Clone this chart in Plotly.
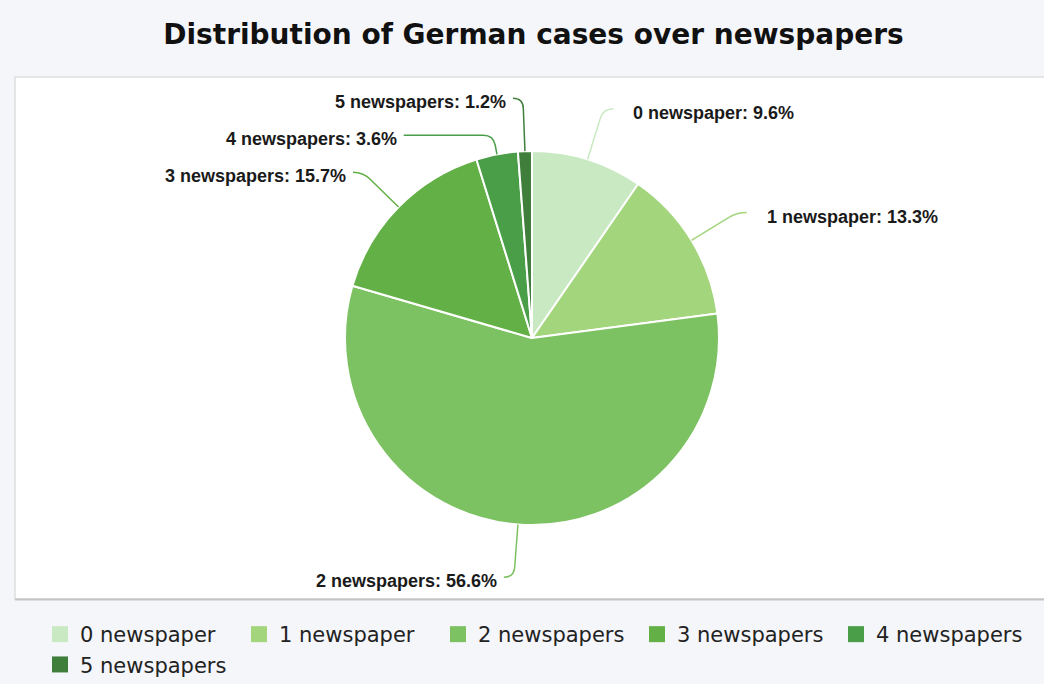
import math
import plotly.graph_objects as go

# --- data -------------------------------------------------------------
categories = ["0 newspaper", "1 newspaper", "2 newspapers",
              "3 newspapers", "4 newspapers", "5 newspapers"]
shares = [9.6, 13.3, 56.6, 15.7, 3.6, 1.2]
colors = ["#c8e9c1", "#a2d57c", "#7cc262", "#62b046", "#4a9e47", "#3f7f3b"]

# --- layout constants (pixels) ----------------------------------------
W, H = 1044, 684
CX, CY, R = 532, 338, 187          # pie centre and radius
LABEL_R = 240                       # radius where label connectors end
MIN_GAP = 37                        # min vertical distance between labels
HOOK = 10                           # horizontal hook at the connector end


def px(x):
    return x / W


def py(y):
    return 1 - y / H


fig = go.Figure()

fig.add_trace(go.Pie(
    labels=categories,
    values=shares,
    sort=False,
    direction="clockwise",
    rotation=0,
    marker=dict(colors=colors, line=dict(color="#ffffff", width=2)),
    textinfo="none",
    hoverinfo="label+percent",
    showlegend=False,
    domain=dict(x=[px(CX - R), px(CX + R)], y=[py(CY + R), py(CY - R)]),
))

# legend entries with large square swatches
for name, col in zip(categories, colors):
    fig.add_trace(go.Scatter(
        x=[None], y=[None], mode="markers", name=name,
        marker=dict(symbol="square", size=20, color=col, line=dict(width=0)),
        hoverinfo="skip",
    ))

# --- outside labels with curved connectors ------------------------------
total = sum(shares)
mids = []
acc = 0.0
for v in shares:
    mids.append(2 * math.pi * (acc + v / 2) / total)
    acc += v

# natural label heights, then push apart on each side
label_y = [CY - LABEL_R * math.cos(a) for a in mids]
for side in (1, -1):
    idx = [i for i, a in enumerate(mids) if (math.sin(a) >= 0) == (side == 1)]
    idx.sort(key=lambda i: label_y[i])
    for k in range(1, len(idx)):
        prev, cur = idx[k - 1], idx[k]
        if label_y[cur] - label_y[prev] < MIN_GAP:
            label_y[cur] = label_y[prev] + MIN_GAP

shapes = [
    # white chart panel
    dict(type="rect", xref="paper", yref="paper", layer="below",
         x0=px(15), x1=px(W + 10), y0=py(599), y1=py(77),
         fillcolor="#ffffff", line=dict(color="#dedede", width=1.5)),
    dict(type="line", xref="paper", yref="paper", layer="below",
         x0=px(15), x1=px(W + 10), y0=py(599.5), y1=py(599.5),
         line=dict(color="#c4c4c4", width=2)),
]
annotations = []

for i, a in enumerate(mids):
    s, c = math.sin(a), math.cos(a)
    side = 1 if s >= 0 else -1
    ly = label_y[i]
    # edge point of the slice
    x0, y0 = CX + R * s, CY - R * c
    # where the radial ray reaches the label height
    t = (CY - ly) / c if abs(c) > 1e-6 else LABEL_R
    t = max(t, R + 6)
    cxp, cyp = CX + t * s, CY - t * c
    t1 = max(R, t - 10)
    x1, y1 = CX + t1 * s, CY - t1 * c
    dy = ly - CY
    circ_x = CX + side * math.sqrt(max(LABEL_R ** 2 - dy ** 2, 0))
    ex = circ_x if side * (circ_x - cxp) >= HOOK else cxp + side * HOOK
    path = (f"M {px(x0)},{py(y0)} L {px(x1)},{py(y1)} "
            f"Q {px(cxp)},{py(ly)} {px(cxp + side * HOOK)},{py(ly)} "
            f"L {px(ex)},{py(ly)}")
    shapes.append(dict(type="path", xref="paper", yref="paper", path=path,
                       line=dict(color=colors[i], width=1.5)))
    gap = 18 if side == 1 else 5
    annotations.append(dict(
        xref="paper", yref="paper",
        x=px(ex + side * gap), y=py(ly + 4),
        xanchor="left" if side == 1 else "right", yanchor="middle",
        text=f"<b>{categories[i]}: {shares[i]}%</b>",
        showarrow=False,
        font=dict(family="Liberation Sans, Arial, sans-serif", size=18,
                  color="#1a1a1a"),
    ))

fig.update_layout(
    width=W, height=H,
    margin=dict(l=0, r=0, t=0, b=0, autoexpand=False),
    paper_bgcolor="#f5f6fa",
    plot_bgcolor="rgba(0,0,0,0)",
    title=dict(
        text="<b>Distribution of German cases over newspapers</b>",
        x=0.511, xanchor="center", y=py(34), yanchor="middle",
        font=dict(family="DejaVu Sans, Verdana, sans-serif", size=28,
                  color="#111111"),
    ),
    xaxis=dict(visible=False), yaxis=dict(visible=False),
    shapes=shapes,
    annotations=annotations,
    legend=dict(
        orientation="h", x=px(40), xanchor="left", y=py(614), yanchor="top",
        font=dict(family="DejaVu Sans, Verdana, sans-serif", size=21,
                  color="#222222"),
        bgcolor="rgba(0,0,0,0)", itemclick=False, itemdoubleclick=False,
        tracegroupgap=0, entrywidth=154,
    ),
)

fig.write_html("out.html")
